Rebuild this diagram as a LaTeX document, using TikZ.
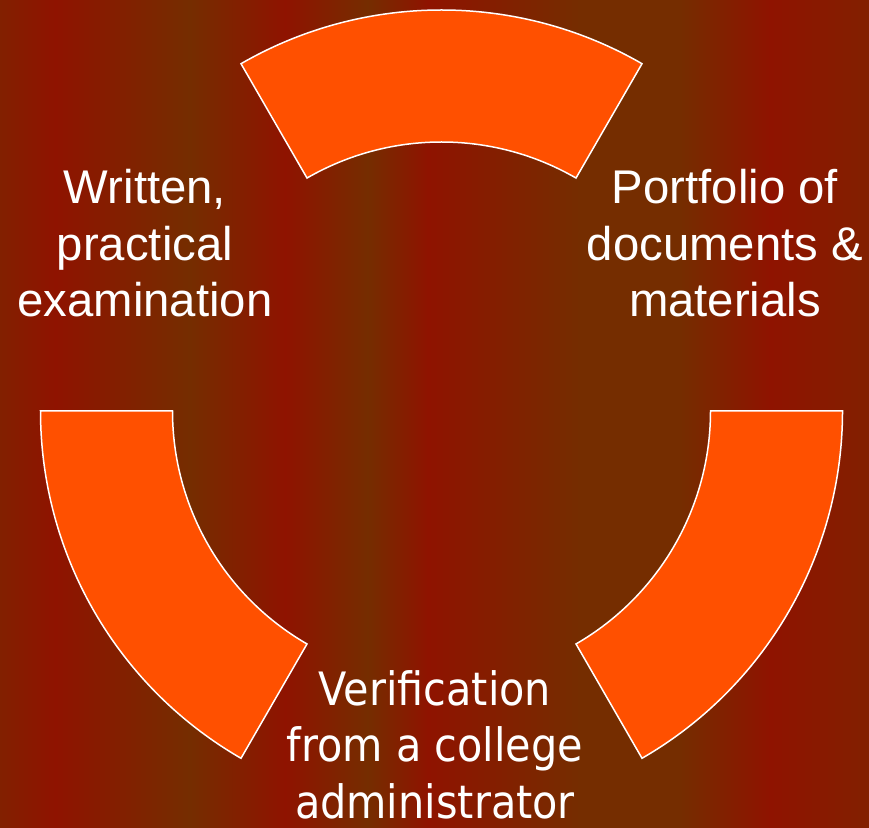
\documentclass[tikz,border=0pt]{standalone}
\usepackage{fontspec}
\setmainfont{Liberation Sans}
\newfontfamily\tahfont{DejaVu Sans Condensed}
\usetikzlibrary{calc}
\definecolor{redc}{RGB}{143,19,0}
\definecolor{brnc}{RGB}{117,45,0}
\definecolor{midc}{RGB}{130,32,0}
\definecolor{segc}{RGB}{255,80,0}
\tikzset{
  seg/.style={fill=segc, draw=white, line width=1.5pt, line join=miter},
  lbl/.style={text=white, align=center, inner sep=0pt, anchor=base,
    font=\fontsize{47.3}{56.8}\selectfont},
  lblb/.style={text=white, align=center, inner sep=0pt, anchor=base,
    font=\tahfont\fontsize{46}{56.5}\selectfont},
}
\begin{document}
\begin{tikzpicture}[x=1pt,y=1pt]
\useasboundingbox (0,0) rectangle (869,827);
% striped background
\foreach \xa/\ca/\xb/\cb in {0/midc/55/redc, 55/redc/190/brnc, 190/brnc/285/redc,
  285/redc/368/brnc, 368/brnc/428/redc, 428/redc/580/brnc, 580/brnc/680/brnc,
  680/brnc/770/redc, 770/redc/869/midc}{
  \shade[left color=\ca, right color=\cb] (\xa-0.3,0) rectangle (\xb+0.3,827);
}
\coordinate (C) at (441.5,416);
% segments
\draw[seg] ($(C)+(60:401)$) arc[start angle=60, end angle=120, radius=401]
  -- ($(C)+(120:269)$) arc[start angle=120, end angle=60, radius=269] -- cycle;
\draw[seg] ($(C)+(180:401)$) arc[start angle=180, end angle=240, radius=401]
  -- ($(C)+(240:269)$) arc[start angle=240, end angle=180, radius=269] -- cycle;
\draw[seg] ($(C)+(300:401)$) arc[start angle=300, end angle=360, radius=401]
  -- ($(C)+(0:269)$) arc[start angle=360, end angle=300, radius=269] -- cycle;
% labels
\node[lbl] (written) at (145,510) {Written,\\practical\\examination};
\node[lbl] (portfolio) at (725,510) {Portfolio of\\documents \&\\materials};
\node[lblb] (verif) at (435,9) {Verification\\from a college\\administrator};
\end{tikzpicture}
\end{document}
